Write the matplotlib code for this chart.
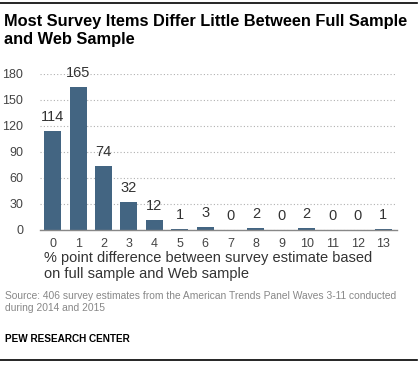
import matplotlib.pyplot as plt

# data
diffs = list(range(14))
counts = [114, 165, 74, 32, 12, 1, 3, 0, 2, 0, 2, 0, 0, 1]
y_ticks = [0, 30, 60, 90, 120, 150, 180]

bar_color = "#436582"
W, H = 420, 365

plt.rcParams["font.family"] = ["Liberation Sans", "DejaVu Sans"]

fig = plt.figure(figsize=(W / 100, H / 100), dpi=100)

# axes placed in pixel terms of the 420x365 figure
left, right, top, bottom = 40, 397, 73.5, 230
ax = fig.add_axes([left / W, 1 - bottom / H, (right - left) / W, (bottom - top) / H])

ax.bar(diffs, counts, width=0.67, color=bar_color, zorder=2)
for x, c in zip(diffs, counts):
    ax.text(x, c + 8, str(c), ha="center", va="bottom", fontsize=10.5,
            color="#333333", clip_on=False)

ax.set_xlim(-0.5, 13.55)
ax.set_ylim(0, 180)
ax.set_yticks(y_ticks)
ax.set_xticks(diffs)
ax.tick_params(axis="both", length=0, labelsize=9, labelcolor="#444444")
ax.tick_params(axis="y", pad=12)
ax.tick_params(axis="x", pad=6)
ax.yaxis.grid(True, linestyle=(0, (1, 2)), color="#b0b0b0", linewidth=0.8, zorder=0)
for s in ["top", "right", "left"]:
    ax.spines[s].set_visible(False)
ax.spines["bottom"].set_color("#888888")
ax.spines["bottom"].set_linewidth(1.0)

# x-axis label, two lines, left aligned under the bars
fig.text(44 / W, 1 - 251 / H, "% point difference between survey estimate based\non full sample and Web sample",
         ha="left", va="top", fontsize=10.5, color="#333333", linespacing=1.15)

# title
fig.text(4 / W, 1 - 14 / H, "Most Survey Items Differ Little Between Full Sample\nand Web Sample",
         ha="left", va="top", fontsize=11.8, fontweight="bold", color="black", linespacing=1.22)

# source and credit
fig.text(5 / W, 1 - 291 / H, "Source: 406 survey estimates from the American Trends Panel Waves 3-11 conducted\nduring 2014 and 2015",
         ha="left", va="top", fontsize=7.4, color="#888888", linespacing=1.3)
fig.text(5 / W, 1 - 334 / H, "PEW RESEARCH CENTER", ha="left", va="top",
         fontsize=7.2, fontweight="bold", color="black")

# top and bottom rules
fig.add_artist(plt.Line2D([0, 417 / W], [1 - 3 / H, 1 - 3 / H], color="black", linewidth=1.2))
fig.add_artist(plt.Line2D([0, 417 / W], [1 - 360 / H, 1 - 360 / H], color="black", linewidth=1.2))

fig.savefig("out.png", dpi=100)
